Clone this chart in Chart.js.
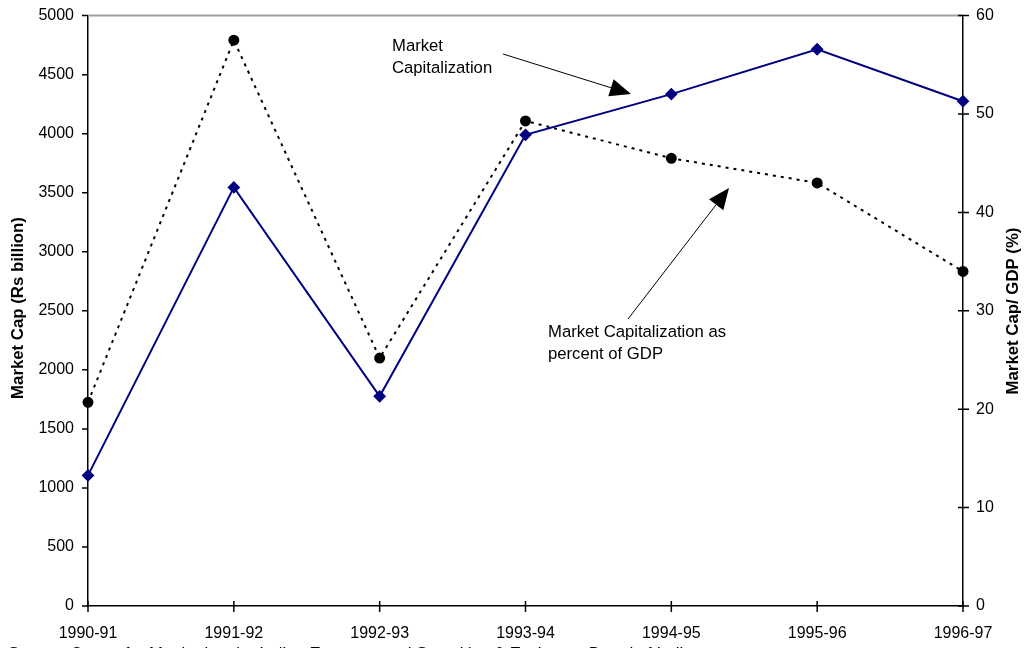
<!DOCTYPE html>
<html>
<head>
<meta charset="utf-8">
<script src="https://cdn.jsdelivr.net/npm/chart.js@4/dist/chart.umd.min.js"></script>
<style>
  html, body { margin: 0; padding: 0; background: #fff; }
  #wrap { width: 1025px; height: 648px; position: relative; }
</style>
</head>
<body>
<div id="wrap"><canvas id="mcChart"></canvas></div>
<script>
// data
const years = ['1990-91', '1991-92', '1992-93', '1993-94', '1994-95', '1995-96', '1996-97'];
const marketCap = [1106, 3545, 1776, 3990, 4335, 4715, 4275];     // Rs billion
const capToGdp = [20.7, 57.5, 25.2, 49.3, 45.5, 43.0, 34.0];      // percent
const leftTicks = [0, 500, 1000, 1500, 2000, 2500, 3000, 3500, 4000, 4500, 5000];
const rightTicks = [0, 10, 20, 30, 40, 50, 60];

const FONT = '"Liberation Sans", Arial, sans-serif';

// draw arrow with filled head
function arrow(ctx, x1, y1, x2, y2) {
  const ang = Math.atan2(y2 - y1, x2 - x1);
  const hl = 21, hw = 9;
  const bx = x2 - hl * Math.cos(ang), by = y2 - hl * Math.sin(ang);
  ctx.strokeStyle = '#000';
  ctx.lineWidth = 1;
  ctx.beginPath();
  ctx.moveTo(x1, y1);
  ctx.lineTo(bx, by);
  ctx.stroke();
  ctx.fillStyle = '#000';
  ctx.beginPath();
  ctx.moveTo(x2, y2);
  ctx.lineTo(bx + hw * Math.sin(ang), by - hw * Math.cos(ang));
  ctx.lineTo(bx - hw * Math.sin(ang), by + hw * Math.cos(ang));
  ctx.closePath();
  ctx.fill();
}

const extras = {
  id: 'extras',
  beforeDatasetsDraw(chart) {
    const ctx = chart.ctx, a = chart.chartArea;
    ctx.save();
    // grey top frame
    ctx.strokeStyle = '#a0a0a0';
    ctx.lineWidth = 2;
    ctx.beginPath();
    ctx.moveTo(a.left, a.top);
    ctx.lineTo(a.right, a.top);
    ctx.stroke();

    // tick marks
    ctx.strokeStyle = '#000';
    ctx.lineWidth = 1.5;
    const y = chart.scales.y, y1 = chart.scales.y1, x = chart.scales.x;
    ctx.beginPath();
    leftTicks.forEach(v => {
      const p = y.getPixelForValue(v);
      ctx.moveTo(a.left - 6, p); ctx.lineTo(a.left, p);
    });
    rightTicks.forEach(v => {
      const p = y1.getPixelForValue(v);
      ctx.moveTo(a.right - 5, p); ctx.lineTo(a.right + 6, p);
    });
    years.forEach((c, i) => {
      const p = x.getPixelForValue(i);
      ctx.moveTo(p, a.bottom - 5); ctx.lineTo(p, a.bottom + 6);
    });
    ctx.stroke();
    ctx.restore();
  },
  afterDraw(chart) {
    const ctx = chart.ctx;
    ctx.save();
    ctx.fillStyle = '#000';
    // axis titles, both read bottom to top
    ctx.font = 'bold 16.8px ' + FONT;
    ctx.textAlign = 'center';
    ctx.textBaseline = 'middle';
    ctx.save();
    ctx.translate(18, 308);
    ctx.rotate(-Math.PI / 2);
    ctx.fillText('Market Cap (Rs billion)', 0, 0);
    ctx.restore();
    ctx.save();
    ctx.translate(1013, 311);
    ctx.rotate(-Math.PI / 2);
    ctx.fillText('Market Cap/ GDP (%)', 0, 0);
    ctx.restore();

    // annotations
    ctx.font = '16.7px ' + FONT;
    ctx.textAlign = 'left';
    ctx.textBaseline = 'alphabetic';
    ctx.fillText('Market', 392, 51);
    ctx.fillText('Capitalization', 392, 73);
    ctx.fillText('Market Capitalization as', 548, 337);
    ctx.fillText('percent of GDP', 548, 359);
    arrow(ctx, 503, 54, 631, 94);
    arrow(ctx, 628, 319, 729, 188);

    // source line, cut off at the bottom edge
    ctx.fillText('Source: Centre for Monitoring the Indian Economy and Securities & Exchange Board of India', 8, 659);
    ctx.restore();
  }
};

const plainTick = v => String(v);

new Chart(document.getElementById('mcChart'), {
  type: 'line',
  data: {
    labels: years,
    datasets: [
      {
        label: 'Market Capitalization',
        data: marketCap,
        yAxisID: 'y',
        borderColor: '#000080',
        backgroundColor: '#000080',
        borderWidth: 2,
        pointStyle: 'rectRot',
        pointRadius: 5,
        pointHoverRadius: 5,
        tension: 0
      },
      {
        label: 'Market Capitalization as percent of GDP',
        data: capToGdp,
        yAxisID: 'y1',
        borderColor: '#000',
        backgroundColor: '#000',
        borderWidth: 2,
        borderDash: [3, 5],
        pointStyle: 'circle',
        pointRadius: 4.5,
        pointHoverRadius: 4.5,
        tension: 0
      }
    ]
  },
  options: {
    responsive: true,
    maintainAspectRatio: false,
    animation: false,
    layout: { padding: { top: 7, left: 0, right: 0, bottom: 0 } },
    plugins: {
      legend: { display: false },
      tooltip: { enabled: false }
    },
    scales: {
      x: {
        offset: false,
        grid: { display: false },
        border: { display: true, color: '#000', width: 1.5 },
        ticks: { color: '#000', font: { family: FONT, size: 16 }, padding: 10, maxRotation: 0, autoSkip: false },
        afterFit(s) { s.height = 42; }
      },
      y: {
        position: 'left',
        min: 0,
        max: 5000,
        grid: { display: false },
        border: { display: true, color: '#000', width: 1.5 },
        ticks: { color: '#000', font: { family: FONT, size: 16 }, padding: 6, stepSize: 500, callback: plainTick },
        afterFit(s) { s.width = 88; }
      },
      y1: {
        position: 'right',
        min: 0,
        max: 60,
        grid: { display: false },
        border: { display: true, color: '#000', width: 1.5 },
        ticks: { color: '#000', font: { family: FONT, size: 16 }, padding: 5, stepSize: 10, callback: plainTick },
        afterFit(s) { s.width = 62; }
      }
    }
  },
  plugins: [extras]
});
</script>
</body>
</html>
